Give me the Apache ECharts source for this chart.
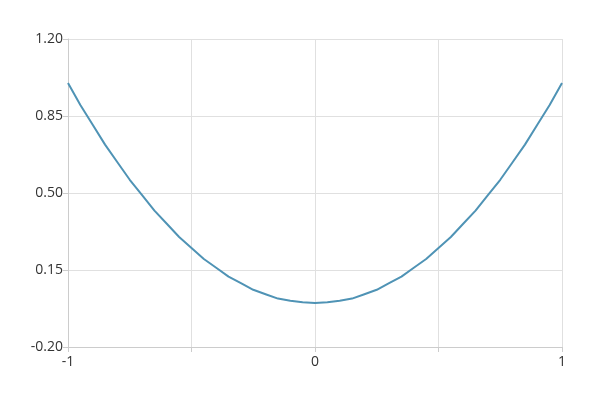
<!DOCTYPE html>
<html>
<head>
<meta charset="utf-8">
<script src="https://cdn.jsdelivr.net/npm/echarts@6/dist/echarts.min.js"></script>
<style>html,body{margin:0;padding:0;background:#fff;}#c{width:600px;height:400px;}</style>
</head>
<body>
<div id="c"></div>
<script>
const xValues = [-1, -0.95, -0.9, -0.85, -0.8, -0.75, -0.7, -0.65, -0.6, -0.55, -0.5, -0.45, -0.4, -0.35, -0.3, -0.25, -0.2, -0.15, -0.1, -0.05, 0, 0.05, 0.1, 0.15, 0.2, 0.25, 0.3, 0.35, 0.4, 0.45, 0.5, 0.55, 0.6, 0.65, 0.7, 0.75, 0.8, 0.85, 0.9, 0.95, 1];
const yValues = [1.0, 0.9, 0.81, 0.72, 0.64, 0.56, 0.49, 0.42, 0.36, 0.3, 0.25, 0.2, 0.16, 0.12, 0.09, 0.06, 0.04, 0.02, 0.01, 0.003, 0.0, 0.003, 0.01, 0.02, 0.04, 0.06, 0.09, 0.12, 0.16, 0.2, 0.25, 0.3, 0.36, 0.42, 0.49, 0.56, 0.64, 0.72, 0.81, 0.9, 1.0];
const yTicks = [-0.2, 0.15, 0.5, 0.85, 1.2];
const xLabels = [-1, 0, 1];

const chart = echarts.init(document.getElementById('c'), null, {renderer: 'canvas'});
const axisFont = {fontFamily: 'Open Sans', fontSize: 14, color: '#333'};
chart.setOption({
  animation: false,
  grid: {left: 68, right: 38, top: 39, bottom: 53, containLabel: false},
  xAxis: {
    type: 'value', min: -1, max: 1, interval: 0.5,
    axisLine: {onZero: false, lineStyle: {color: '#ccc'}},
    axisTick: {show: true, length: 5, lineStyle: {color: '#ccc'}},
    splitLine: {show: true, lineStyle: {color: '#e0e0e0'}},
    axisLabel: Object.assign({margin: 8, formatter: v => xLabels.indexOf(v) >= 0 ? String(v) : ''}, axisFont)
  },
  yAxis: {
    type: 'value', min: yTicks[0], max: yTicks[yTicks.length - 1], interval: 0.35,
    axisLine: {show: true, onZero: false, lineStyle: {color: '#ccc'}},
    axisTick: {show: true, length: 5, lineStyle: {color: '#ccc'}},
    splitLine: {show: true, lineStyle: {color: '#e0e0e0'}},
    axisLabel: Object.assign({margin: 5, formatter: v => v.toFixed(2)}, axisFont)
  },
  series: [{
    type: 'line',
    data: xValues.map((x, i) => [x, yValues[i]]),
    showSymbol: false,
    smooth: false,
    lineStyle: {color: '#4f93b5', width: 2},
    itemStyle: {color: '#4f93b5'}
  }]
});
</script>
</body>
</html>
